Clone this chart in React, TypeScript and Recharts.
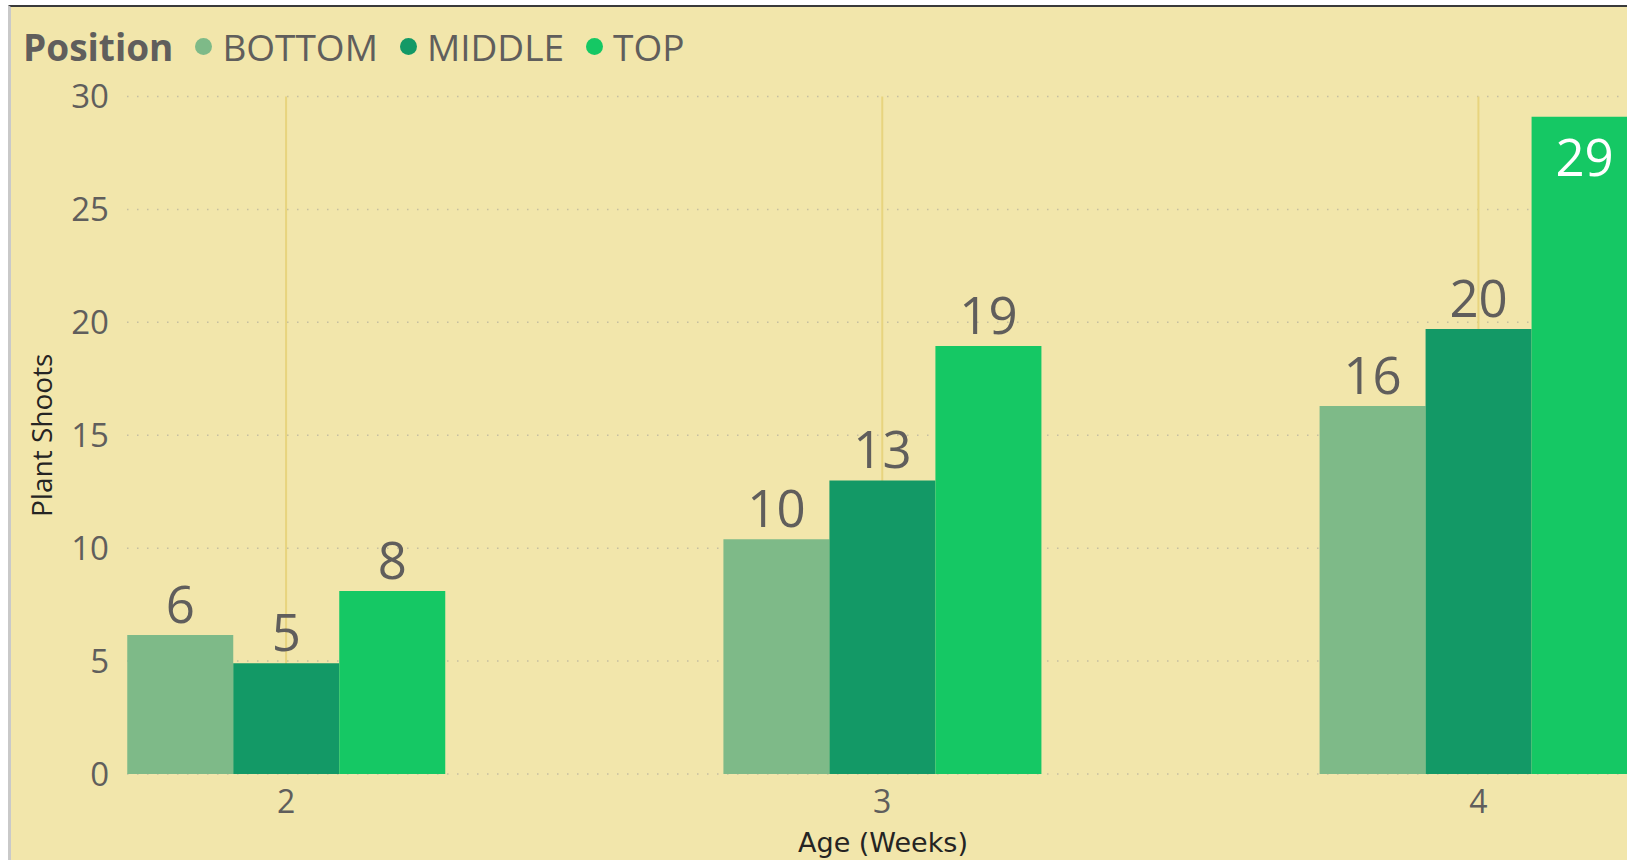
import { BarChart, Bar, XAxis, YAxis, CartesianGrid, LabelList } from "recharts";

const ages = ["2", "3", "4"];
const bottomShoots = [6.15, 10.4, 16.3];
const middleShoots = [4.9, 13.0, 19.7];
const topShoots = [8.1, 18.95, 29.1];
const yTicks = [0, 5, 10, 15, 20, 25, 30];
const positions = ["BOTTOM", "MIDDLE", "TOP"];

const colors: Record<string, string> = {
  BOTTOM: "#7EBA88",
  MIDDLE: "#139966",
  TOP: "#15C864",
};

const data = ages.map((age, i) => ({
  age,
  BOTTOM: bottomShoots[i],
  MIDDLE: middleShoots[i],
  TOP: topShoots[i],
}));

const labelFont = "'Open Sans', sans-serif";

function ValueLabel(props: any) {
  const { x, y, width, value } = props;
  const cx = Number(x) + Number(width) / 2;
  const v = Number(value);
  // the tallest bar has no room above it, so its label goes inside
  const inside = v > 27;
  return (
    <text
      x={cx}
      y={inside ? Number(y) + 59 : Number(y) - 12}
      textAnchor="middle"
      fill={inside ? "#ffffff" : "#605E5C"}
      fontSize={51}
      fontFamily={labelFont}
    >
      {Math.round(v)}
    </text>
  );
}

function YTitle(props: any) {
  const vb = props.viewBox || {};
  const x = vb.x + 41;
  const y = vb.y + vb.height / 2;
  return (
    <text
      x={x}
      y={y}
      transform={`rotate(-90 ${x} ${y})`}
      textAnchor="middle"
      dominantBaseline="central"
      fill="#252423"
      fontSize={28}
      fontFamily={labelFont}
    >
      Plant Shoots
    </text>
  );
}

function XTitle() {
  return (
    <text
      x={883}
      y={852}
      textAnchor="middle"
      fill="#252423"
      fontSize={27}
      fontFamily="'DejaVu Sans', sans-serif"
    >
      Age (Weeks)
    </text>
  );
}

export default function App() {
  return (
    <div
      style={{
        position: "absolute",
        left: 0,
        top: 0,
        width: 1627,
        height: 860,
        overflow: "hidden",
        background: "#ffffff",
      }}
    >
      <div
        style={{
          position: "absolute",
          left: 8,
          top: 5,
          width: 1640,
          height: 870,
          background: "#F2E6AB",
          borderTop: "2px solid #3a3a3a",
          borderLeft: "3px solid #c9c9c9",
        }}
      />
      <div style={{ position: "absolute", left: 0, top: 0 }}>
        <BarChart
          width={1800}
          height={860}
          data={data}
          margin={{ top: 96.5, right: 0, bottom: 0, left: 0 }}
          barCategoryGap={139.25}
          barGap={0}
        >
          <CartesianGrid
            vertical={false}
            stroke="#C4BEA2"
            strokeWidth={1.5}
            strokeDasharray="1.5 8.5"
          />
          <CartesianGrid
            horizontal={false}
            syncWithTicks
            stroke="#E8D47E"
            strokeWidth={2}
          />
          <XAxis
            dataKey="age"
            height={86}
            padding={{ left: -139, right: 23.5 }}
            axisLine={false}
            tickLine={false}
            tickSize={0}
            tickMargin={16}
            tick={{ fill: "#605E5C", fontSize: 32, fontFamily: labelFont }}
            label={{ content: () => <XTitle /> }}
          />
          <YAxis
            width={127}
            domain={[0, 30]}
            ticks={yTicks}
            axisLine={false}
            tickLine={false}
            tickSize={0}
            tickMargin={18}
            tick={{ fill: "#605E5C", fontSize: 33, fontFamily: labelFont }}
            label={{ content: (p: any) => <YTitle {...p} /> }}
          />
          {positions.map((p) => (
            <Bar key={p} dataKey={p} fill={colors[p]} isAnimationActive={false}>
              <LabelList dataKey={p} content={(lp: any) => <ValueLabel {...lp} />} />
            </Bar>
          ))}
        </BarChart>
      </div>
      <div
        style={{
          position: "absolute",
          left: 23,
          top: 25,
          height: 42,
          display: "flex",
          alignItems: "center",
          fontFamily: labelFont,
          fontSize: 37,
          color: "#605E5C",
          whiteSpace: "nowrap",
        }}
      >
        <span style={{ fontWeight: 700, color: "#605E5C", marginRight: 22 }}>Position</span>
        {positions.map((p) => (
          <span key={p} style={{ display: "flex", alignItems: "center", marginRight: 22 }}>
            <span
              style={{
                width: 17,
                height: 17,
                borderRadius: 9,
                background: colors[p],
                marginRight: 10,
              }}
            />
            {p}
          </span>
        ))}
      </div>
    </div>
  );
}
